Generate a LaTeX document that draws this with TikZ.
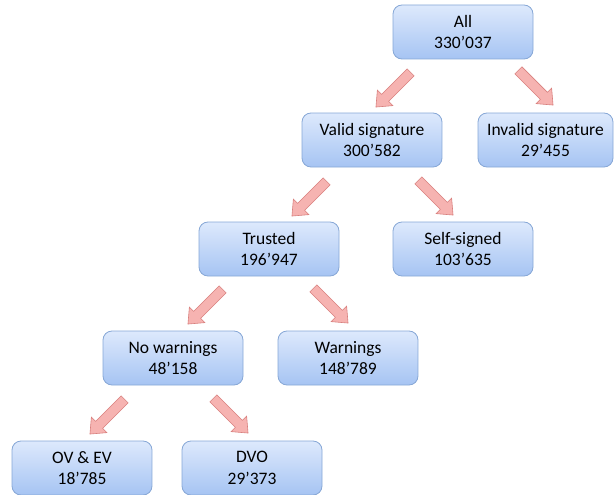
\documentclass[tikz,border=0pt]{standalone}
\usepackage{fontspec}
\setmainfont{Carlito}
\usetikzlibrary{calc}

\definecolor{boxtop}{HTML}{DDE9FC}
\definecolor{boxbot}{HTML}{A6C4F3}
\definecolor{boxline}{HTML}{86A7D6}
\definecolor{arrfill}{HTML}{F6B3B1}
\definecolor{arrline}{HTML}{D8807E}

\begin{document}
\begin{tikzpicture}
[x=1pt,y=-1pt,
 cert/.style={draw=boxline,line width=.8pt,rounded corners=9pt,
   top color=boxtop,bottom color=boxbot,minimum width=140pt,minimum height=54pt,
   align=center,font=\fontsize{17.5}{21.5}\selectfont},
 barrow/.pic={\draw[draw=arrline,fill=arrfill,line width=.6pt,line join=miter]
   (0,-5) -- (36,-5) -- (36,-11) -- (49,0) -- (36,11) -- (36,5) -- (0,5) -- cycle;}]

\useasboundingbox (0,0) rectangle (616,495);

\node[cert] (all) at (463,32) {All\\330’037};
\node[cert] (valid) at (372,140) {Valid signature\\300’582};
\node[cert,minimum width=135pt] (invalid) at (545.5,140) {Invalid signature\\29’455};
\node[cert] (trusted) at (269,249) {Trusted\\196’947};
\node[cert] (self) at (463,249) {Self-signed\\103’635};
\node[cert] (nowarn) at (173,358) {No warnings\\48’158};
\node[cert] (warn) at (348,358) {Warnings\\148’789};
\node[cert] (ov) at (82,468) {OV \& EV\\18’785};
\node[cert] (dvo) at (252,468) {DVO\\29’373};

% arrows
\pic[rotate=-135] at ($(all.south west)+(18,13)$) {barrow};
\pic[rotate=-45] at ($(all.south east)+(-15,11)$) {barrow};
\pic[rotate=-135] at ($(valid.south west)+(25,14)$) {barrow};
\pic[rotate=-45] at ($(valid.south east)+(-24,13)$) {barrow};
\pic[rotate=-135] at ($(trusted.south west)+(24,13)$) {barrow};
\pic[rotate=-45] at ($(trusted.south east)+(-26,12)$) {barrow};
\pic[rotate=-135] at ($(nowarn.south west)+(22,14)$) {barrow};
\pic[rotate=-45] at ($(nowarn.south east)+(-30,13)$) {barrow};

\end{tikzpicture}
\end{document}
